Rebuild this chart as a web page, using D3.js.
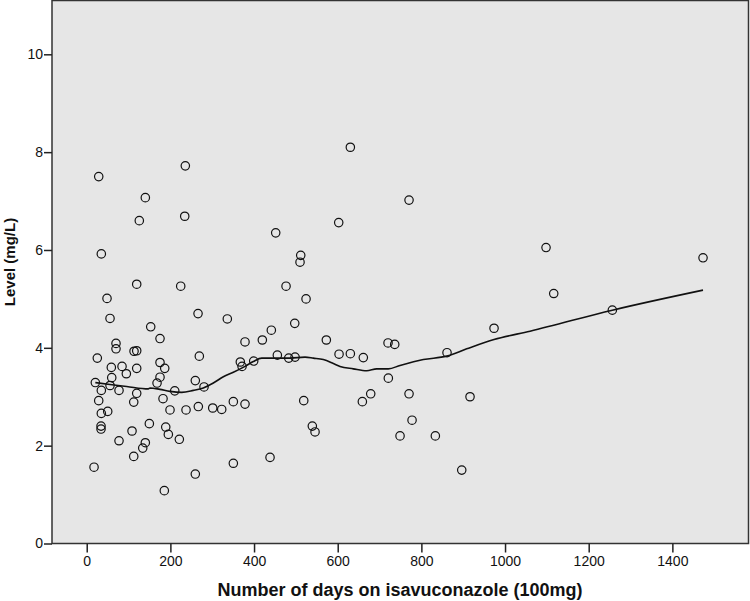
<!DOCTYPE html>
<html><head><meta charset="utf-8">
<script src="https://cdn.jsdelivr.net/npm/d3@7"></script>
<style>body{margin:0;background:#fff}svg{display:block}text{font-family:"Liberation Sans",Arial,sans-serif}</style>
</head><body><svg id="c" width="750" height="601"></svg>
<script>
const days = [28.7,235.7,140.1,125.7,234.3,451.8,511.6,509.9,34.9,119.5,224.7,476.5,524.3,48.5,55.7,153,175.2,266.1,336.1,441.3,419.8,497.3,378.4,70,70,113.1,119.5,25.3,269.2,58.8,84.4,94.7,119.5,175.2,186.5,59.8,175.2,168.1,20.6,55.7,34.9,77.2,210.4,259.6,280.4,119.5,367.2,371.3,399.2,455.7,482.9,498,28.7,112.4,182.4,199.1,237.4,266.8,301.2,322.7,350.5,378.4,518.8,34.9,50.2,34.2,34.2,108.3,149.7,188.9,195.1,221.4,77.2,140.1,133.9,112.4,17.5,259.6,350.5,438.2,185.5,630.2,770.5,602.4,1098,973.7,572.8,720.3,736.3,861.3,603.2,630.2,661.2,721,658.9,678.9,770.5,916.3,539.3,545.8,777.7,749,833.4,896.5,1116.4,1256.5,1473.3];
const levels = [7.50,7.72,7.07,6.60,6.69,6.35,5.89,5.75,5.92,5.30,5.26,5.26,5.00,5.01,4.60,4.43,4.19,4.70,4.59,4.36,4.16,4.50,4.12,4.09,3.98,3.93,3.94,3.79,3.83,3.60,3.62,3.47,3.58,3.70,3.58,3.39,3.40,3.28,3.29,3.23,3.13,3.13,3.12,3.33,3.20,3.07,3.71,3.62,3.73,3.85,3.79,3.81,2.92,2.89,2.96,2.73,2.73,2.80,2.77,2.74,2.90,2.85,2.92,2.66,2.70,2.40,2.34,2.30,2.45,2.38,2.23,2.13,2.10,2.06,1.95,1.78,1.56,1.42,1.64,1.76,1.08,8.10,7.02,6.56,6.05,4.40,4.16,4.10,4.07,3.90,3.87,3.88,3.80,3.38,2.90,3.06,3.06,3.00,2.40,2.28,2.52,2.20,2.20,1.50,5.11,4.77,5.84];
const fitDays = [20.6,55.7,95.6,147.3,151.3,175.2,199.1,227.1,254.8,278.7,302.7,326.6,350.5,378.4,398.3,418.4,446.1,486,521.9,541.7,565.6,589.5,605.5,637.3,669.4,693.3,721,749,804.7,860.6,908.4,973.7,1059.8,1256.5,1473.3];
const fitLevels = [3.29,3.25,3.21,3.16,3.18,3.15,3.11,3.09,3.13,3.18,3.28,3.41,3.50,3.62,3.72,3.79,3.79,3.79,3.81,3.79,3.76,3.68,3.62,3.57,3.53,3.57,3.57,3.64,3.76,3.83,3.98,4.17,4.34,4.77,5.18];
const xTicks = [0,200,400,600,800,1000,1200,1400];
const yTicks = [0,2,4,6,8,10];
const xTitle = "Number of days on isavuconazole (100mg)";
const yTitle = "Level (mg/L)";

const L=52, R=748.5, T=0.5, B=543.5;
const svg = d3.select("#c");
const x = d3.scaleLinear().domain([-83,1582]).range([L,R]);
const y = d3.scaleLinear().domain([0,11.1]).range([B,T]);

svg.append("rect").attr("x",L).attr("y",T).attr("width",R-L).attr("height",B-T)
  .attr("fill","#e6e6e6").attr("stroke","#333").attr("stroke-width",1.5);

const xa = svg.append("g").attr("transform",`translate(0,${B})`)
  .call(d3.axisBottom(x).tickValues(xTicks).tickSize(9).tickPadding(4).tickFormat(d3.format("d")));
xa.select(".domain").remove();
xa.selectAll("line").attr("stroke","#222").attr("stroke-width",1.5);
xa.selectAll("text").attr("font-size",14).attr("fill","#111").style("font-family","Liberation Sans, Arial, sans-serif");

const ya = svg.append("g").attr("transform",`translate(${L},0)`)
  .call(d3.axisLeft(y).tickValues(yTicks).tickSize(8).tickPadding(1).tickFormat(d3.format("d")));
ya.select(".domain").remove();
ya.selectAll("line").attr("stroke","#222").attr("stroke-width",1.5);
ya.selectAll("text").attr("font-size",14).attr("fill","#111").style("font-family","Liberation Sans, Arial, sans-serif");

const pts = days.map((d,i)=>({d, v:levels[i]}));
svg.append("g").selectAll("circle").data(pts).join("circle")
  .attr("cx",p=>x(p.d)).attr("cy",p=>y(p.v)).attr("r",4.2)
  .attr("fill","none").attr("stroke","#111").attr("stroke-width",1.2);

const fit = fitDays.map((d,i)=>[d,fitLevels[i]]);
svg.append("path").datum(fit)
  .attr("d",d3.line().x(p=>x(p[0])).y(p=>y(p[1])).curve(d3.curveMonotoneX))
  .attr("fill","none").attr("stroke","#111").attr("stroke-width",1.6);

svg.append("text").attr("x",400).attr("y",596).attr("text-anchor","middle")
  .attr("font-size",18).attr("font-weight","bold").attr("fill","#111").text(xTitle);
svg.append("text").attr("transform","translate(15,262) rotate(-90)").attr("text-anchor","middle")
  .attr("font-size",15).attr("font-weight","bold").attr("fill","#111").text(yTitle);
</script></body></html>
